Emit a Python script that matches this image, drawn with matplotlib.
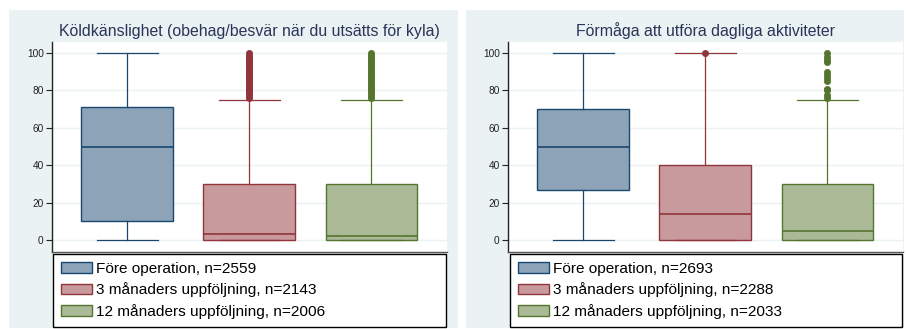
import matplotlib.pyplot as plt
from matplotlib.patches import Patch, Rectangle

plt.rcParams['font.family'] = ['Liberation Sans', 'DejaVu Sans']

groups = ["Före operation", "3 månaders uppföljning", "12 månaders uppföljning"]

# Köldkänslighet
kold_n = [2559, 2143, 2006]
kold_lo = [0, 0, 0]
kold_q1 = [10, 0, 0]
kold_med = [50, 3, 2]
kold_q3 = [71, 30, 30]
kold_hi = [100, 75, 75]
kold_out = [
    [],
    [76, 77, 78, 79, 80, 81, 82, 83, 84, 85, 86, 87, 88, 89, 90, 91, 92,
     93, 94, 95, 96, 97, 98, 99, 100],
    [76, 77, 78, 79, 80, 81, 82, 83, 84, 85, 86, 87, 88, 89, 90, 91, 92,
     93, 94, 95, 96, 97, 98, 99, 100],
]

# Förmåga att utföra dagliga aktiviteter
akt_n = [2693, 2288, 2033]
akt_lo = [0, 0, 0]
akt_q1 = [27, 0, 0]
akt_med = [50, 14, 5]
akt_q3 = [70, 40, 30]
akt_hi = [100, 100, 75]
akt_out = [
    [],
    [100],
    [76, 77.5, 80, 81, 85, 86.5, 88, 90, 95, 96.5, 98, 100],
]

edge_cols = ['#1A476F', '#90353B', '#55752F']
fill_cols = ['#8CA3B8', '#C89A9D', '#AABA97']
bg = '#EAF2F3'

W, H = 906, 329
fig = plt.figure(figsize=(W / 100, H / 100), dpi=100)


def px_rect(x0, y0, x1, y1):
    return (x0 / W, 1 - y1 / H, (x1 - x0) / W, (y1 - y0) / H)


for x0, x1 in [(9, 458), (466, 904)]:
    r = px_rect(x0, 10, x1, 328)
    fig.add_artist(Rectangle(r[:2], r[2], r[3], transform=fig.transFigure,
                             facecolor=bg, edgecolor='none', zorder=0))


def panel(ax_px, leg_px, title, n, lo, q1, med, q3, hi, out):
    ax = fig.add_axes(px_rect(*ax_px))
    stats = []
    for i in range(3):
        stats.append(dict(whislo=lo[i], q1=q1[i], med=med[i], q3=q3[i],
                          whishi=hi[i], fliers=out[i]))
    parts = ax.bxp(stats, positions=[1, 2, 3], widths=0.75, capwidths=0.5,
                   patch_artist=True, showfliers=True)
    for i in range(3):
        c = edge_cols[i]
        parts['boxes'][i].set(facecolor=fill_cols[i], edgecolor=c, linewidth=1.0)
        parts['medians'][i].set(color=c, linewidth=1.2)
        for ln in parts['whiskers'][2 * i:2 * i + 2] + parts['caps'][2 * i:2 * i + 2]:
            ln.set(color=c, linewidth=0.9)
        parts['fliers'][i].set(marker='o', markerfacecolor=c, markeredgecolor=c,
                               markersize=4.5, markeredgewidth=0.5)
    ax.set_xlim(0.385, 3.62)
    ax.set_ylim(-6.4, 105.9)
    ax.set_yticks([0, 20, 40, 60, 80, 100])
    ax.set_xticks([])
    ax.yaxis.grid(True, color=bg, linewidth=1.0)
    ax.set_axisbelow(True)
    ax.tick_params(axis='y', direction='out', length=4, width=0.8,
                   labelsize=7.3, colors='#222222', pad=2)
    for s in ['top', 'right']:
        ax.spines[s].set_visible(False)
    ax.spines['left'].set(color='#222222', linewidth=1.0)
    ax.spines['bottom'].set(color='#555555', linewidth=1.0)
    ax.set_title(title, fontsize=11.4, color='#2A3558', pad=4)

    handles = [Patch(facecolor=fill_cols[i], edgecolor=edge_cols[i], linewidth=1.0)
               for i in range(3)]
    labels = [f"{groups[i]}, n={n[i]}" for i in range(3)]
    lb = px_rect(*leg_px)
    leg = fig.legend(handles, labels, loc='upper left', bbox_to_anchor=lb,
                     mode='expand', borderaxespad=0, fontsize=11.1,
                     handlelength=2.0, handleheight=0.65, handletextpad=0.25,
                     labelspacing=0.42, borderpad=0.52, fancybox=False,
                     framealpha=1, edgecolor='black')
    leg.get_frame().set_linewidth(1.0)
    return ax


panel((52, 42, 447, 252), (53, 254, 446, 323),
      "Köldkänslighet (obehag/besvär när du utsätts för kyla)",
      kold_n, kold_lo, kold_q1, kold_med, kold_q3, kold_hi, kold_out)
panel((508, 42, 903, 252), (510, 254, 902, 323),
      "Förmåga att utföra dagliga aktiviteter",
      akt_n, akt_lo, akt_q1, akt_med, akt_q3, akt_hi, akt_out)

fig.savefig('out.png', dpi=100)
